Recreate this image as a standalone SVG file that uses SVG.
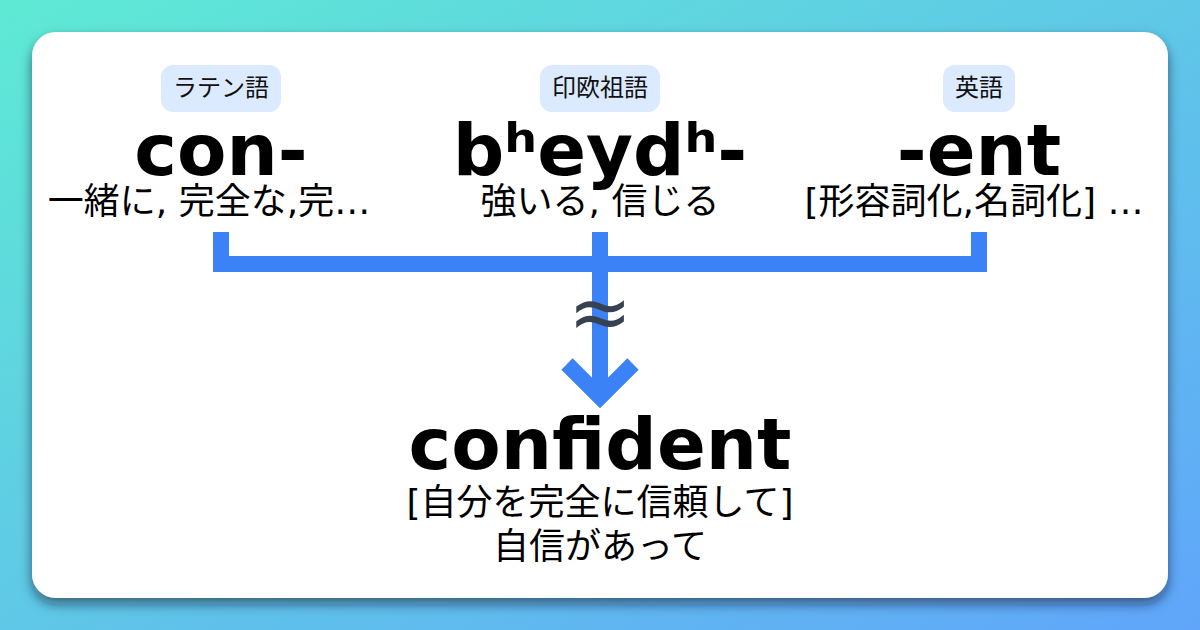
<svg xmlns="http://www.w3.org/2000/svg" width="1200" height="630" viewBox="0 0 1200 630">
  <defs>
    <linearGradient id="bg" x1="0" y1="0" x2="1" y2="1">
      <stop offset="0" stop-color="#5eead4"/>
      <stop offset="1" stop-color="#60a5fa"/>
    </linearGradient>
    <filter id="shadow" x="-10%" y="-10%" width="120%" height="125%">
      <feDropShadow dx="0" dy="6" stdDeviation="6" flood-color="#0f172a" flood-opacity="0.55"/>
    </filter>
    <style>
      .pill { fill: #dbeafe; }
      .pilltxt { font-family: "DejaVu Sans", "Noto Sans CJK JP", sans-serif; font-size: 24px; fill: #111; text-anchor: middle; }
      .word { font-family: "DejaVu Sans", sans-serif; font-weight: bold; font-size: 72px; fill: #000; text-anchor: middle; }
      .mean { font-family: "DejaVu Sans", "Noto Sans CJK JP", sans-serif; font-size: 36px; fill: #000; text-anchor: middle; }
      .result { font-family: "DejaVu Sans", "Noto Sans CJK JP", sans-serif; font-size: 36px; fill: #000; text-anchor: middle; }
      .conn { fill: none; stroke: #3b82f6; stroke-width: 16; }
      .approx { font-family: "DejaVu Sans", sans-serif; font-size: 76px; fill: #374151; text-anchor: middle; }
    </style>
  </defs>
  <rect width="1200" height="630" fill="url(#bg)"/>
  <rect x="32" y="32" width="1136" height="566" rx="24" fill="#fff" filter="url(#shadow)"/>

  <g id="connectors">
    <path class="conn" d="M221,232 V264 H979 V232" stroke-linejoin="miter"/>
    <path class="conn" d="M600,232 V398"/>
    <polyline class="conn" points="567,364 600,397 633,364" stroke-width="15" stroke-linejoin="miter" stroke-linecap="butt"/>
    <text class="approx" x="600" y="338">≈</text>
  </g>

  <g id="node-latin">
    <rect class="pill" x="161" y="65" width="120" height="47" rx="12"/>
    <text class="pilltxt" x="221" y="96">ラテン語</text>
    <text class="word" x="221" y="175">con-</text>
    <text class="mean" x="209" y="214">一緒に, 完全な,完…</text>
  </g>

  <g id="node-pie">
    <rect class="pill" x="540" y="65" width="120" height="47" rx="12"/>
    <text class="pilltxt" x="600" y="96">印欧祖語</text>
    <text class="word" x="600" y="175">bʰeydʰ-</text>
    <text class="mean" x="600" y="214">強いる, 信じる</text>
  </g>

  <g id="node-english">
    <rect class="pill" x="943" y="65" width="72" height="47" rx="12"/>
    <text class="pilltxt" x="979" y="96">英語</text>
    <text class="word" x="979" y="175">-ent</text>
    <text class="mean" x="974" y="214">[形容詞化,名詞化] …</text>
  </g>

  <g id="node-result">
    <text class="word" x="600" y="469">confident</text>
    <text class="result" x="600" y="515">[自分を完全に信頼して]</text>
    <text class="result" x="600" y="559">自信があって</text>
  </g>
</svg>
